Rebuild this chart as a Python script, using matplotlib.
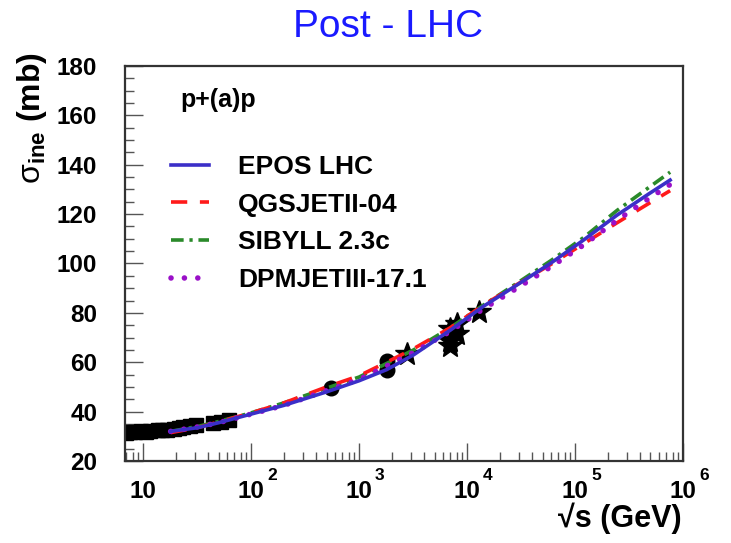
import numpy as np
import matplotlib
matplotlib.use("Agg")
import matplotlib.pyplot as plt
from matplotlib.ticker import LogLocator, MultipleLocator, NullFormatter, FixedLocator, FixedFormatter

plt.rcParams['font.family'] = ['Liberation Sans', 'DejaVu Sans']
plt.rcParams['mathtext.fontset'] = 'custom'
plt.rcParams['mathtext.rm'] = 'Liberation Sans'
plt.rcParams['mathtext.bf'] = 'Liberation Sans:bold'
plt.rcParams['mathtext.it'] = 'Liberation Sans:italic'

# measured data (black markers)
sqrt_s_sq = [7.0, 7.6, 8.5, 9.5, 10.7, 11.5, 13.8, 15.0, 16.8, 19.4, 21.7, 23.5, 27.4, 30.6, 44.7, 52.8, 62.5]
sigma_sq = [31.5, 31.8, 31.6, 32.0, 31.9, 32.3, 32.4, 32.6, 32.5, 33.0, 33.2, 33.6, 34.0, 34.4, 35.3, 36.0, 36.6]
sqrt_s_circ = [546, 1800, 1800]
sigma_circ = [49.5, 60.5, 57.0]
sqrt_s_star = [2760, 7000, 7000, 7000, 8000, 8000, 13000]
sigma_star = [63.5, 73.5, 68.5, 66.5, 75.5, 71.5, 80.5]

# model predictions
sqrt_s_model = [18, 32, 50, 100, 200, 500, 1000, 1800, 3200, 7000, 14000,
                29000, 59000, 120000, 245000, 490000, 760000]
epos = [32.0, 33.5, 35.5, 39.0, 42.5, 48.0, 52.5, 57.0, 63.0, 73.0, 82.5,
        91.3, 100.0, 109.5, 119.6, 128.4, 133.8]
qgsjet = [31.5, 33.5, 35.8, 39.5, 43.5, 50.0, 54.5, 60.0, 65.5, 74.0, 83.0,
          91.5, 99.5, 108.0, 116.5, 124.5, 129.5]
sibyll = [32.0, 34.0, 36.0, 39.5, 43.5, 49.5, 54.0, 59.5, 65.0, 74.0, 83.0,
          92.0, 101.0, 110.5, 121.5, 131.0, 137.0]
dpmjet = [32.0, 33.8, 35.5, 39.0, 42.5, 48.5, 53.0, 58.5, 64.0, 72.5, 81.5,
          90.0, 98.5, 107.5, 117.5, 126.5, 132.0]

fig = plt.figure(figsize=(7.31, 5.43), dpi=100)
ax = fig.add_axes([125/731, 82/543, 558/731, 395/543])

ax.plot(sqrt_s_sq, sigma_sq, 's', color='black', ms=9.5, zorder=2)
ax.plot(sqrt_s_circ, sigma_circ, 'o', color='black', ms=10.5, zorder=2)
ax.plot(sqrt_s_star, sigma_star, '*', color='black', ms=18, zorder=2)

ax.plot(sqrt_s_model, epos, '-', color='#3b2fc8', lw=2.6, label='EPOS LHC', zorder=6)
ax.plot(sqrt_s_model, qgsjet, color='#ff1a1a', lw=2.6, ls=(0, (4.5, 3.5)), label='QGSJETII-04', zorder=4)
ax.plot(sqrt_s_model, sibyll, color='#2a8a2a', lw=2.6, ls=(0, (3.5, 1.6, 0.9, 1.6)), label='SIBYLL 2.3c', zorder=3)
ax.plot(sqrt_s_model, dpmjet, color='#9a10c8', lw=4.0, ls=(0, (0.01, 2.4)),
        dash_capstyle='round', label='DPMJETIII-17.1', zorder=5)

ax.set_xscale('log')
ax.set_xlim(6.8, 1e6)
ax.set_ylim(20, 180)

decades = [10, 100, 1000, 10000, 100000, 1000000]
ax.xaxis.set_major_locator(FixedLocator(decades))
ax.xaxis.set_major_formatter(FixedFormatter(['10'] * len(decades)))
ax.xaxis.set_minor_locator(LogLocator(base=10, subs=range(2, 10), numticks=20))
ax.xaxis.set_minor_formatter(NullFormatter())
ax.yaxis.set_major_locator(MultipleLocator(20))
ax.yaxis.set_minor_locator(MultipleLocator(5))

ax.tick_params(which='both', direction='in', top=False, right=False, color='#555555', width=1)
ax.tick_params(which='major', length=13)
ax.tick_params(which='minor', length=6.5)
ax.tick_params(axis='y', which='major', labelsize=17.5, pad=20)
ax.tick_params(axis='x', which='major', labelsize=17.5, pad=14)
for lab in ax.get_xticklabels() + ax.get_yticklabels():
    lab.set_fontweight('bold')
for sp in ax.spines.values():
    sp.set_linewidth(1.6)
    sp.set_color('#333333')

for d in range(2, 7):
    ax.annotate(str(d), xy=(10**d, 0), xycoords=('data', 'axes fraction'),
                xytext=(11.5, -5), textcoords='offset points',
                ha='left', va='top', fontsize=12.5, fontweight='bold')

ax.text(55/558, 1 - 34/395, 'p+(a)p', transform=ax.transAxes,
        fontsize=18, fontweight='bold', ha='left', va='center')

leg = ax.legend(loc='upper left', bbox_to_anchor=(0.04, 0.835), frameon=False,
                prop={'size': 19, 'weight': 'bold'}, handlelength=1.45,
                handletextpad=1.1, labelspacing=0.52)

fig.text(388/731, 1 - 37/543, 'Post - LHC', color='#1a1aff', fontsize=28,
         ha='center', va='baseline')
fig.text(682/731, 1 - 518/543, '√s (GeV)', fontsize=22, fontweight='bold',
         ha='right', va='center')
fig.text(32/731, 1 - 52/543, r'$\mathrm{σ}_{\mathbf{ine}}$ (mb)', fontsize=23,
         fontweight='bold', rotation=90, ha='center', va='top')

fig.savefig('out.png', dpi=100)
